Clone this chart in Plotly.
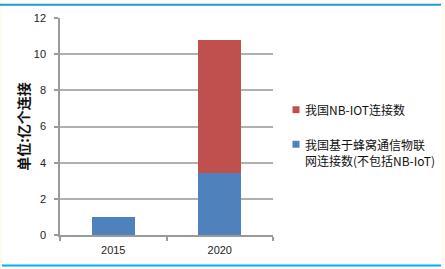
import plotly.graph_objects as go

categories = ["2015", "2020"]
cellular_iot = [1.0, 3.45]
nb_iot = [0.0, 7.35]
series_names = ["我国基于蜂窝通信物联<br>网连接数(不包括NB-IoT)", "我国NB-IOT连接数"]
series_colors = ["#4F81BD", "#C0504D"]
y_ticks = [0, 2, 4, 6, 8, 10, 12]
y_title = "单位:亿个连接"

W, H = 445, 269
L, R, T, B = 60, 172, 15, 34
pw, ph = W - L - R, H - T - B

def px(x):
    return (x - L) / pw

def py(y):
    return (H - B - y) / ph

fig = go.Figure()
fig.add_trace(go.Bar(x=categories, y=cellular_iot, name=series_names[0],
                     marker=dict(color=series_colors[0], line=dict(width=0)),
                     width=0.4, showlegend=False))
fig.add_trace(go.Bar(x=categories, y=nb_iot, name=series_names[1],
                     marker=dict(color=series_colors[1], line=dict(width=0)),
                     width=0.4, showlegend=False))

font_cjk = "Noto Sans CJK SC, Noto Sans, sans-serif"

# legend drawn as annotations (top series first, like the reference)
square_pos = [(296, 143), (296, 108)]
text_pos = [(303, 151.5), (303, 108)]
shapes = []
for (sx, sy), (tx, ty), name, col in zip(square_pos, text_pos, series_names, series_colors):
    shapes.append(dict(type="rect", xref="paper", yref="paper",
                       x0=px(sx - 3.5), x1=px(sx + 3.5), y0=py(sy + 3.5), y1=py(sy - 3.5),
                       fillcolor=col, line=dict(width=0)))
    fig.add_annotation(
        xref="paper", yref="paper", x=px(tx), y=py(ty),
        xanchor="left", yanchor="middle", showarrow=False, align="left",
        text=name, font=dict(family=font_cjk, size=12, color="#111111"),
    )

fig.update_layout(
    width=W, height=H,
    margin=dict(l=L, r=R, t=T, b=B, pad=0),
    barmode="stack",
    paper_bgcolor="#FFFBF0",
    plot_bgcolor="rgba(0,0,0,0)",
    shapes=[
        dict(type="rect", xref="paper", yref="paper", layer="below",
             x0=px(2), x1=px(441), y0=py(H), y1=py(0),
             fillcolor="#FFFFFF", line=dict(width=0)),
        dict(type="line", xref="paper", yref="paper",
             x0=px(0), x1=px(441), y0=py(1.5), y1=py(1.5),
             line=dict(color="#1E9AD6", width=2)),
        dict(type="line", xref="paper", yref="paper",
             x0=px(2), x1=px(441), y0=py(266), y1=py(266),
             line=dict(color="#00AEEF", width=2)),
    ] + shapes,
    xaxis=dict(
        type="category", showgrid=False, showline=True, linecolor="#9a9a9a",
        linewidth=1.5, ticks="outside", tickson="boundaries", ticklen=4,
        tickcolor="#9a9a9a", tickwidth=1.5,
        tickfont=dict(family="Liberation Sans, Arial", size=11, color="#222222"),
        ticklabelstandoff=4,
    ),
    yaxis=dict(
        range=[0, 12], tickvals=y_ticks, showgrid=True, gridcolor="#b0b0b0",
        gridwidth=1.5, showline=True, linecolor="#9a9a9a", linewidth=1.5,
        ticks="outside", ticklen=4, tickcolor="#9a9a9a", tickwidth=1.5,
        zeroline=False,
        tickfont=dict(family="Liberation Sans, Arial", size=11, color="#222222"),
        ticklabelstandoff=6,
        title=dict(text=f"<b>{y_title}</b>", standoff=1,
                   font=dict(family=font_cjk, size=14, color="#111111")),
    ),
)

fig.write_html("out.html")
